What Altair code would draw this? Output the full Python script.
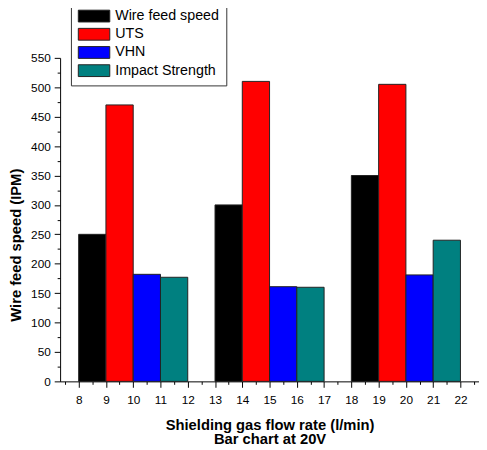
import altair as alt
import pandas as pd

series = ["Wire feed speed", "UTS", "VHN", "Impact Strength"]
colors = ["#000000", "#FF0000", "#0000FF", "#008080"]
group_start = [8, 13, 18]
wire_feed = [250, 300, 350]
uts = [470, 510, 505]
vhn = [182, 161, 181]
impact = [177, 160, 240]

rows = []
for gi, g in enumerate(group_start):
    for si, (name, vals) in enumerate(zip(series, [wire_feed, uts, vhn, impact])):
        rows.append({"series": name, "x0": g + si, "x1": g + si + 1, "value": vals[gi]})
df = pd.DataFrame(rows)

x_ticks = [7.5 + 0.5 * i for i in range(31)]
y_ticks = [25 * i for i in range(23)]

font = "Liberation Sans"

chart = alt.Chart(df).mark_bar(stroke="#222222", strokeWidth=1, orient="vertical").encode(
    x=alt.X("x0:Q", scale=alt.Scale(domain=[7.5, 22.5], nice=False, zero=False),
            axis=alt.Axis(values=x_ticks, labelOverlap=False,
                          labelExpr="datum.value % 1 === 0 ? format(datum.value, 'd') : ''",
                          tickSize={"condition": {"test": "datum.value % 1 !== 0", "value": 3}, "value": 6},
                          labelPadding=7, labelFontSize=12,
                          title=["Shielding gas flow rate (l/min)", "Bar chart at 20V"],
                          titleFontSize=15, titleLineHeight=14, titlePadding=13)),
    x2="x1:Q",
    y=alt.Y("value:Q", stack=None, scale=alt.Scale(domain=[0, 550], nice=False),
            axis=alt.Axis(values=y_ticks, labelOverlap=False,
                          labelExpr="datum.value % 50 === 0 ? format(datum.value, 'd') : ''",
                          tickSize={"condition": {"test": "datum.value % 50 !== 0", "value": 3}, "value": 6},
                          labelPadding=4, labelFontSize=12,
                          title="Wire feed speed (IPM)", titleFontSize=15, titlePadding=7,
                          titleY=190)),
    y2=alt.Y2Datum(0),
    color=alt.Color("series:N", scale=alt.Scale(domain=series, range=colors),
                    legend=alt.Legend(title=None, orient="none", legendX=11, legendY=-58,
                                      symbolType="M-1,-0.75H3V0.75H-1Z", symbolSize=256,
                                      symbolStrokeColor="#222222", symbolStrokeWidth=1,
                                      labelFontSize=14.5, labelFont=font, labelColor="#000000",
                                      labelExpr="datum.label + '   '",
                                      strokeColor="#333333", fillColor="#ffffff", padding=7,
                                      rowPadding=1.5, labelOffset=21, labelLimit=300)),
).properties(
    width=426, height=329,
    padding={"left": 53, "top": 47, "right": 0, "bottom": 62},
    autosize="none",
).configure_view(stroke=None).configure_axis(
    domainColor="#000000", tickColor="#000000", labelColor="#000000",
    labelFont=font, titleFont=font,
    titleFontWeight="bold", titleColor="#000000", grid=False,
    domainWidth=1, tickWidth=1,
)

chart.save("out.html", embed_options={"renderer": "svg", "actions": False})
